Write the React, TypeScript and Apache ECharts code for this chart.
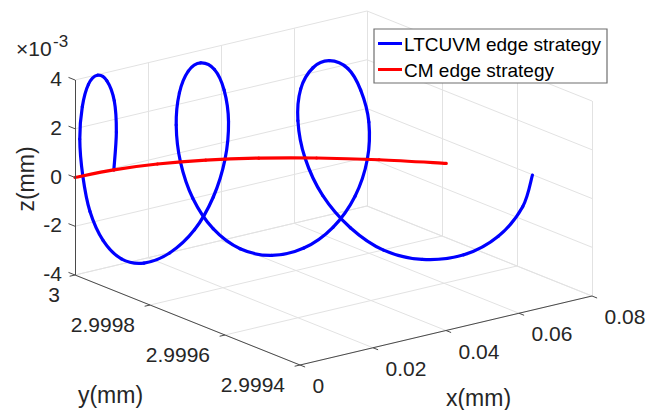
import React, { useEffect, useRef } from "react";
import * as echarts from "echarts";

// ---- axis ticks / labels ----
const xTicks = [0, 0.02, 0.04, 0.06, 0.08];
const xTickLabels = ["0", "0.02", "0.04", "0.06", "0.08"];
const yTicks = [2.9994, 2.9996, 2.9998, 3];
const yTickLabels = ["2.9994", "2.9996", "2.9998", "3"];
const zTicks = [-0.004, -0.002, 0, 0.002, 0.004];
const zTickLabels = ["-4", "-2", "0", "2", "4"];
const zExponent = ["\u00d710", "-3"];
const axisTitles = ["x(mm)", "y(mm)", "z(mm)"];
const seriesNames = ["LTCUVM edge strategy", "CM edge strategy"];

// ---- LTCUVM edge strategy (blue) ----
const blueX = [0.0100, 0.0106, 0.0101, 0.0083, 0.0059, 0.0036, 0.00198, 0.0013, 0.0021, 0.0040,
  0.00738, 0.0118, 0.0170, 0.0226, 0.02775, 0.03148, 0.03374, 0.0344, 0.03357, 0.0317,
  0.0290, 0.0265, 0.02466, 0.0240, 0.02488, 0.02741, 0.03144, 0.03658, 0.04228, 0.04786,
  0.0527, 0.05625, 0.05818, 0.05842, 0.05714, 0.0551, 0.0521, 0.0494, 0.04734, 0.04686,
  0.04806, 0.05101, 0.0555, 0.0607, 0.0665, 0.0725, 0.0773, 0.0806, 0.0819];
const blueY = [2.9999937, 2.9999929, 2.9999936, 2.9999957, 2.9999978, 2.9999992, 2.9999998, 2.9999999, 2.9999997, 2.999999,
  2.9999966, 2.9999912, 2.9999818, 2.9999678, 2.9999515, 2.9999376, 2.9999283, 2.9999254, 2.999929, 2.9999367,
  2.999947, 2.9999558, 2.9999617, 2.9999637, 2.999961, 2.9999527, 2.9999377, 2.9999157, 2.9998874, 2.9998557,
  2.999825, 2.9998007, 2.9997867, 2.999785, 2.9997943, 2.9998087, 2.999829, 2.9998463, 2.9998588, 2.9998617,
  2.9998545, 2.9998361, 2.9998059, 2.9997679, 2.9997214, 2.9996689, 2.9996236, 2.9995907, 2.9995774];
const blueZ = [0, 0.00153, 0.00283, 0.0037, 0.004, 0.0037, 0.00283, 0.00153, 0, -0.00153, -0.00283, -0.0037, -0.004, -0.0037, -0.00283, -0.00153,
  0, 0.00153, 0.00283, 0.0037, 0.004, 0.0037, 0.00283, 0.00153, 0, -0.00153, -0.00283, -0.0037, -0.004, -0.0037, -0.00283, -0.00153,
  0, 0.00153, 0.00283, 0.0037, 0.004, 0.0037, 0.00283, 0.00153, 0, -0.00153, -0.00283, -0.0037, -0.004, -0.0037, -0.00283, -0.00153,
  -0.0002];

// ---- CM edge strategy (red) ----
const redX = [0, 0.01, 0.02, 0.03, 0.04, 0.05, 0.06, 0.07];
const redY = [3, 2.9999937, 2.9999748, 2.9999433, 2.9998992, 2.9998425, 2.9997732, 2.9996913];
const redZ = [0, 0, 0, 0, 0, 0, 0, 0];

// ---- layout of the projected 3D box (screen pixels) ----
const W = 658;
const H = 410;
const ORIGIN = [300, 365]; // (xmin, ymin, zmin)
const EX = [292, -69]; // full x range
const EY = [-225, -90]; // full y range
const EZ = [0, -195]; // full z range
const FONT = "'Liberation Sans', Arial, Helvetica, sans-serif";
const TXT = "#262626";

const X0 = xTicks[0], X1 = xTicks[xTicks.length - 1];
const Y0 = yTicks[0], Y1 = yTicks[yTicks.length - 1];
const Z0 = zTicks[0], Z1 = zTicks[zTicks.length - 1];

function proj(x: number, y: number, z: number): number[] {
  const a = (x - X0) / (X1 - X0);
  const b = (y - Y0) / (Y1 - Y0);
  const c = (z - Z0) / (Z1 - Z0);
  return [
    ORIGIN[0] + a * EX[0] + b * EY[0] + c * EZ[0],
    ORIGIN[1] + a * EX[1] + b * EY[1] + c * EZ[1],
  ];
}
function unit(v: number[]) {
  const l = Math.hypot(v[0], v[1]);
  return [v[0] / l, v[1] / l];
}

// smooth curve series (Catmull-Rom through the projected points, via the axes' coord())
function curveSeries(name: string, pts: number[][], color: string, z: number) {
  return {
    type: "custom",
    name,
    coordinateSystem: "cartesian2d",
    z,
    silent: true,
    data: pts,
    encode: { x: 0, y: 1 },
    renderItem: (params: any, api: any) => {
      const i = params.dataIndex;
      const n = pts.length;
      if (i >= n - 1) return null;
      const c = (j: number) => api.coord(pts[Math.max(0, Math.min(n - 1, j))]);
      const p0 = c(i - 1), p1 = c(i), p2 = c(i + 1), p3 = c(i + 2);
      return {
        type: "bezierCurve",
        shape: {
          x1: p1[0], y1: p1[1], x2: p2[0], y2: p2[1],
          cpx1: p1[0] + (p2[0] - p0[0]) / 6, cpy1: p1[1] + (p2[1] - p0[1]) / 6,
          cpx2: p2[0] - (p3[0] - p1[0]) / 6, cpy2: p2[1] - (p3[1] - p1[1]) / 6,
        },
        style: { stroke: color, lineWidth: 3.2, fill: "none", lineCap: "round" },
      };
    },
  };
}

export default function App() {
  const ref = useRef<HTMLDivElement>(null);
  useEffect(() => {
    if (!ref.current) return;
    const chart = echarts.init(ref.current, null, { renderer: "svg" });

    const gridSegs: number[][][] = [];
    xTicks.forEach((xt) => {
      gridSegs.push([proj(xt, Y0, Z0), proj(xt, Y1, Z0)]);
      gridSegs.push([proj(xt, Y1, Z0), proj(xt, Y1, Z1)]);
    });
    yTicks.forEach((yt) => {
      gridSegs.push([proj(X0, yt, Z0), proj(X1, yt, Z0)]);
      gridSegs.push([proj(X1, yt, Z0), proj(X1, yt, Z1)]);
    });
    zTicks.forEach((zt) => {
      gridSegs.push([proj(X0, Y1, zt), proj(X1, Y1, zt)]);
      gridSegs.push([proj(X1, Y0, zt), proj(X1, Y1, zt)]);
    });

    const ux = unit(EX);
    const uy = unit(EY);
    const axisSegs: number[][][] = [
      [proj(X0, Y0, Z0), proj(X1, Y0, Z0)],
      [proj(X0, Y0, Z0), proj(X0, Y1, Z0)],
      [proj(X0, Y1, Z0), proj(X0, Y1, Z1)],
    ];
    const texts: any[] = [];
    xTicks.forEach((xt, i) => {
      const p = proj(xt, Y0, Z0);
      axisSegs.push([p, [p[0] - uy[0] * 5.5, p[1] - uy[1] * 5.5]]);
      texts.push({ type: "text", x: p[0] + 12.5, y: p[1] + 20.5,
        style: { text: xTickLabels[i], fontSize: 21, fontFamily: FONT, fill: TXT, align: "left", verticalAlign: "middle" } });
    });
    yTicks.forEach((yt, i) => {
      const p = proj(X0, yt, Z0);
      axisSegs.push([p, [p[0] - ux[0] * 5.5, p[1] - ux[1] * 5.5]]);
      texts.push({ type: "text", x: p[0] - 15, y: p[1] + 19.5,
        style: { text: yTickLabels[i], fontSize: 21, fontFamily: FONT, fill: TXT, align: "right", verticalAlign: "middle" } });
    });
    zTicks.forEach((zt, i) => {
      const p = proj(X0, Y1, zt);
      axisSegs.push([p, [p[0] + uy[0] * 7, p[1] + uy[1] * 7]]);
      texts.push({ type: "text", x: p[0] - 13, y: p[1] - 1.5,
        style: { text: zTickLabels[i], fontSize: 21, fontFamily: FONT, fill: TXT, align: "right", verticalAlign: "middle" } });
    });
    texts.push({ type: "text", x: 16, y: 48,
      style: { text: zExponent[0], fontSize: 21, fontFamily: FONT, fill: TXT, align: "left", verticalAlign: "middle" } });
    texts.push({ type: "text", x: 53, y: 41,
      style: { text: zExponent[1], fontSize: 17, fontFamily: FONT, fill: TXT, align: "left", verticalAlign: "middle" } });
    texts.push({ type: "text", x: 478.5, y: 398,
      style: { text: axisTitles[0], fontSize: 23, fontFamily: FONT, fill: TXT, align: "center", verticalAlign: "middle" } });
    texts.push({ type: "text", x: 110.5, y: 395,
      style: { text: axisTitles[1], fontSize: 23, fontFamily: FONT, fill: TXT, align: "center", verticalAlign: "middle" } });
    texts.push({ type: "text", x: 26, y: 179, rotation: Math.PI / 2,
      style: { text: axisTitles[2], fontSize: 23, fontFamily: FONT, fill: TXT, align: "center", verticalAlign: "middle" } });

    // legend
    const legend: any[] = [
      { type: "rect", shape: { x: 374, y: 29, width: 233, height: 54 },
        style: { fill: "#ffffff", stroke: "#6f6f6f", lineWidth: 1.2 }, z: 10 },
      { type: "line", shape: { x1: 378, y1: 43.5, x2: 402, y2: 43.5 }, style: { stroke: "#0000ff", lineWidth: 3 }, z: 11 },
      { type: "line", shape: { x1: 378, y1: 69.5, x2: 402, y2: 69.5 }, style: { stroke: "#ff0000", lineWidth: 3 }, z: 11 },
      { type: "text", x: 404, y: 44, z: 11,
        style: { text: seriesNames[0], fontSize: 19, fontFamily: FONT, fill: "#000", align: "left", verticalAlign: "middle" } },
      { type: "text", x: 404, y: 70, z: 11,
        style: { text: seriesNames[1], fontSize: 19, fontFamily: FONT, fill: "#000", align: "left", verticalAlign: "middle" } },
    ];

    const bluePts = blueX.map((x, i) => proj(x, blueY[i], blueZ[i]));
    const redPts = redX.map((x, i) => proj(x, redY[i], redZ[i]));

    chart.setOption({
      animation: false,
      backgroundColor: "#ffffff",
      grid: { left: 0, right: 0, top: 0, bottom: 0 },
      xAxis: { type: "value", min: 0, max: W, show: false },
      yAxis: { type: "value", min: 0, max: H, inverse: true, show: false },
      series: [
        { type: "lines", coordinateSystem: "cartesian2d", silent: true, z: 1,
          data: gridSegs.map((s) => ({ coords: s })),
          lineStyle: { color: "#e2e2e2", width: 1, opacity: 1 } },
        curveSeries(seriesNames[0], bluePts, "#0000ff", 3),
        curveSeries(seriesNames[1], redPts, "#ff0000", 4),
        { type: "lines", coordinateSystem: "cartesian2d", silent: true, z: 5,
          data: axisSegs.map((s) => ({ coords: s })),
          lineStyle: { color: "#4a4a4a", width: 1, opacity: 1 } },
      ],
      graphic: { elements: [...texts, ...legend] },
    });
    return () => chart.dispose();
  }, []);
  return <div ref={ref} style={{ position: "fixed", left: 0, top: 0, width: W, height: H, background: "#fff" }} />;
}
